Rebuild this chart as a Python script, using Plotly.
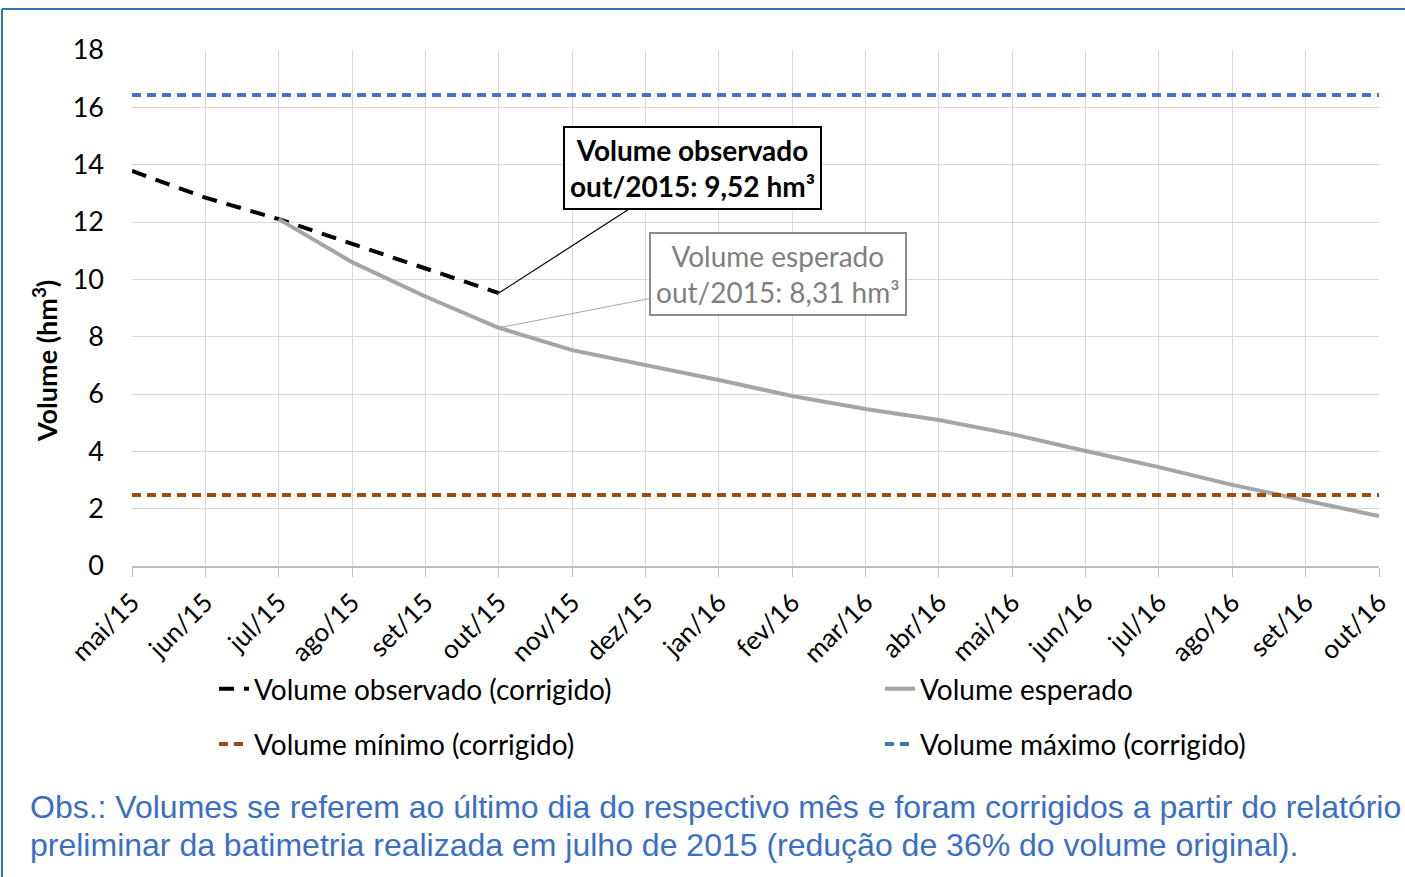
import plotly.graph_objects as go

months = ["mai/15", "jun/15", "jul/15", "ago/15", "set/15", "out/15", "nov/15", "dez/15",
          "jan/16", "fev/16", "mar/16", "abr/16", "mai/16", "jun/16", "jul/16", "ago/16",
          "set/16", "out/16"]
observado_x = months[:6]
observado = [13.78, 12.85, 12.1, 11.25, 10.4, 9.52]
esperado_x = months[2:]
esperado = [12.1, 10.6, 9.4, 8.31, 7.53, 7.01, 6.49, 5.93, 5.48, 5.09, 4.6, 4.01, 3.45, 2.83, 2.27, 1.74]
vol_min = 2.48
vol_max = 16.43

W, H = 1405, 877
L, R, T, B = 132, 1379, 50, 566

def px(x):
    return (x - L) / (R - L)

def py(y):
    return (B - y) / (B - T)

font = "Lato"

fig = go.Figure()
fig.add_trace(go.Scatter(x=observado_x, y=observado, mode="lines", name="Volume observado (corrigido)",
                         legend="legend", legendgroup="a",
                         line=dict(color="black", width=4, dash="15px,10px")))
fig.add_trace(go.Scatter(x=esperado_x, y=esperado, mode="lines", name="Volume esperado",
                         legend="legend2", legendgroup="b",
                         line=dict(color="#a5a5a5", width=4)))
fig.add_trace(go.Scatter(x=months, y=[vol_min] * len(months), mode="lines", name="Volume mínimo (corrigido)",
                         legend="legend", legendgroup="c",
                         line=dict(color="#9a4a12", width=4, dash="9px,6px")))
fig.add_trace(go.Scatter(x=months, y=[vol_max] * len(months), mode="lines", name="Volume máximo (corrigido)",
                         legend="legend2", legendgroup="d",
                         line=dict(color="#4472c4", width=4, dash="9px,6px")))

fig.add_annotation(x="out/15", y=observado[-1], xref="x", yref="y",
                   text="<b>Volume observado<br>out/2015: 9,52 hm³</b>",
                   showarrow=True, arrowhead=0, arrowwidth=1.2, arrowcolor="black",
                   ax=194, ay=-125, axref="pixel", ayref="pixel",
                   font=dict(family=font, size=28, color="black"),
                   bgcolor="white", bordercolor="black", borderwidth=2, borderpad=5)
fig.add_annotation(x="out/15", y=esperado[3], xref="x", yref="y",
                   text="Volume esperado<br>out/2015: 8,31 hm³",
                   showarrow=True, arrowhead=0, arrowwidth=1, arrowcolor="#a5a5a5",
                   ax=279, ay=-54, axref="pixel", ayref="pixel",
                   font=dict(family=font, size=28, color="#7f7f7f"),
                   bgcolor="white", bordercolor="#8c8c8c", borderwidth=2, borderpad=5)

fig.add_annotation(x=px(45), y=py(361), xref="paper", yref="paper", xanchor="center", yanchor="middle",
                   text="<b>Volume (hm<sup>3</sup>)</b>", textangle=-90, showarrow=False,
                   font=dict(family=font, size=27, color="black"))

fig.add_annotation(x=px(28), y=py(807), xref="paper", yref="paper", xanchor="left", yanchor="middle",
                   text="Obs.: Volumes se referem ao último dia do respectivo mês e foram corrigidos a partir do relatório",
                   showarrow=False, font=dict(family="Liberation Sans", size=32, color="#3b6fc5"))
fig.add_annotation(x=px(28), y=py(845), xref="paper", yref="paper", xanchor="left", yanchor="middle",
                   text="preliminar da batimetria realizada em julho de 2015 (redução de 36% do volume original).",
                   showarrow=False, font=dict(family="Liberation Sans", size=32, color="#3b6fc5"))

# border
fig.add_shape(type="line", xref="paper", yref="paper", x0=px(2), x1=px(2), y0=py(9), y1=py(880),
              line=dict(color="#2e75b6", width=2))
fig.add_shape(type="line", xref="paper", yref="paper", x0=px(2), x1=px(1410), y0=py(9), y1=py(9),
              line=dict(color="#2e75b6", width=2))

fig.update_xaxes(type="category", categoryorder="array", categoryarray=months, range=[0, 17],
                 tickangle=-45, tickfont=dict(family=font, size=26, color="black"),
                 showgrid=True, gridcolor="#d9d9d9", gridwidth=1,
                 showline=True, linecolor="#bfbfbf", linewidth=2,
                 ticks="outside", ticklen=9, tickcolor="#bfbfbf", zeroline=False)
fig.update_yaxes(range=[0, 18], dtick=2, tickfont=dict(family=font, size=27, color="black"),
                 showgrid=True, gridcolor="#d9d9d9", gridwidth=1, zeroline=False,
                 ticklabelstandoff=27)

leg_common = dict(orientation="v", xanchor="left", yanchor="top",
                  font=dict(family=font, size=28, color="black"),
                  tracegroupgap=16, bgcolor="rgba(0,0,0,0)", itemwidth=30)
fig.update_layout(width=W, height=H, margin=dict(l=L, r=W - R, t=T, b=H - B),
                  plot_bgcolor="white", paper_bgcolor="white", showlegend=True,
                  legend=dict(x=px(214), y=py(664), **leg_common),
                  legend2=dict(x=px(880), y=py(664), **leg_common))

fig.write_html("out.html", config={"displayModeBar": False},
               post_script="document.body.style.margin='0px';document.body.style.overflow='hidden';")
